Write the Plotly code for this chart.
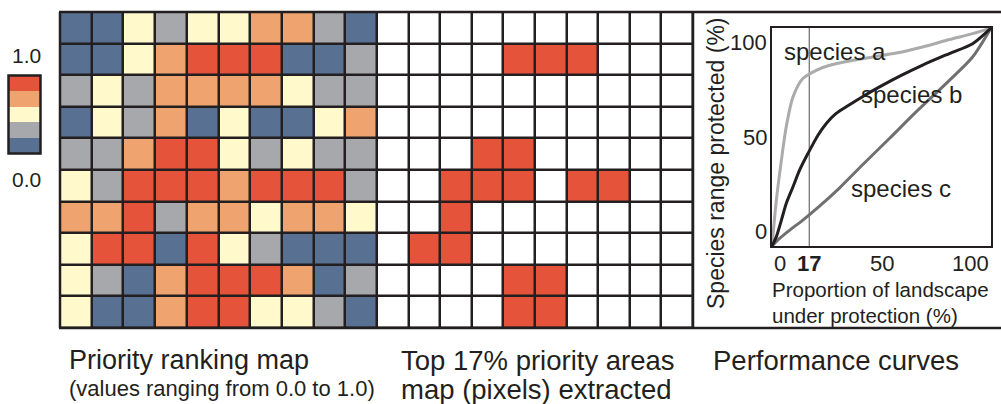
import plotly.graph_objects as go

# Priority rank classes per pixel (0 = lowest ... 4 = highest), rows top to bottom
rank_rows = [
    [0, 0, 2, 1, 2, 2, 3, 3, 1, 0],
    [0, 0, 2, 3, 4, 4, 4, 0, 0, 1],
    [1, 2, 1, 3, 3, 3, 3, 2, 1, 1],
    [0, 2, 1, 3, 0, 2, 0, 0, 2, 3],
    [1, 1, 3, 4, 4, 2, 1, 2, 1, 1],
    [2, 1, 4, 4, 4, 3, 4, 4, 4, 1],
    [3, 3, 4, 1, 3, 3, 2, 3, 3, 2],
    [2, 4, 4, 0, 4, 2, 1, 0, 0, 0],
    [2, 1, 0, 3, 4, 4, 4, 3, 0, 1],
    [2, 0, 0, 3, 4, 4, 2, 2, 1, 0],
]

# Pixels selected in the top 17% of the landscape (1 = selected)
top17_rows = [
    [0, 0, 0, 0, 0, 0, 0, 0, 0, 0],
    [0, 0, 0, 0, 1, 1, 1, 0, 0, 0],
    [0, 0, 0, 0, 0, 0, 0, 0, 0, 0],
    [0, 0, 0, 0, 0, 0, 0, 0, 0, 0],
    [0, 0, 0, 1, 1, 0, 0, 0, 0, 0],
    [0, 0, 1, 1, 1, 0, 1, 1, 0, 0],
    [0, 0, 1, 0, 0, 0, 0, 0, 0, 0],
    [0, 1, 1, 0, 0, 0, 0, 0, 0, 0],
    [0, 0, 0, 0, 1, 1, 0, 0, 0, 0],
    [0, 0, 0, 0, 1, 1, 0, 0, 0, 0],
]

# Legend classes, top (1.0) to bottom (0.0)
legend_classes = [4, 3, 2, 1, 0]

# Performance curves: % of landscape protected vs % of species range protected
species_a_x = [0, 2.0, 4.3, 6.5, 9.6, 14.1, 20.2, 26.3, 35.4, 46.0, 56.7, 68.8, 81.0, 91.6, 100]
species_a_y = [0, 21.1, 39.4, 54.7, 68.4, 76.8, 80.6, 82.9, 84.9, 86.7, 88.5, 91.3, 94.7, 97.4, 100]
species_b_x = [0, 2.0, 4.3, 6.5, 9.6, 12.6, 16.4, 21.0, 24.8, 29.3, 35.4, 41.5, 49.1, 59.7, 68.8, 81.0, 91.6, 100]
species_b_y = [0, 4.3, 11.9, 19.5, 27.2, 34.8, 42.4, 50.8, 56.2, 60.8, 64.8, 68.6, 73.0, 78.6, 83.0, 88.3, 92.8, 100]
species_c_x = [0, 3.5, 8.1, 14.1, 21.7, 30.9, 41.5, 53.6, 65.8, 81.0, 91.6, 100]
species_c_y = [0, 3.5, 7.3, 11.9, 18.3, 26.7, 37.4, 49.3, 61.5, 76.0, 86.7, 100]
target_share = 17

x_ticks = [0, 17, 50, 100]
y_ticks = [0, 50, 100]

INK = "#231F20"
FONT = "Liberation Sans, Arial, Helvetica, sans-serif"
BLUE, GRAY, YELLOW, ORANGE, RED = "#587091", "#A7A8AC", "#FFF9CC", "#EFA36E", "#E4533A"

class_scale = [
    [0.0, BLUE], [0.2, BLUE], [0.2, GRAY], [0.4, GRAY], [0.4, YELLOW],
    [0.6, YELLOW], [0.6, ORANGE], [0.8, ORANGE], [0.8, RED], [1.0, RED],
]

W, H = 1001, 404


def px_x(v):
    return v / W


def px_y(v):
    return 1 - v / H


fig = go.Figure()

# Priority ranking map
fig.add_trace(go.Heatmap(
    z=rank_rows, zmin=0, zmax=4, colorscale=class_scale, showscale=False,
    xgap=2.5, ygap=2.5, xaxis="x", yaxis="y", hoverinfo="skip",
))
# Top 17% extraction map
fig.add_trace(go.Heatmap(
    z=top17_rows, zmin=0, zmax=1, colorscale=[[0, "#FFFFFF"], [0.5, "#FFFFFF"], [0.5, RED], [1, RED]],
    showscale=False, xgap=2.5, ygap=2.5, xaxis="x2", yaxis="y2", hoverinfo="skip",
))
# Legend swatch
fig.add_trace(go.Heatmap(
    z=[[c] for c in legend_classes], zmin=0, zmax=4, colorscale=class_scale, showscale=False,
    xaxis="x4", yaxis="y4", hoverinfo="skip",
))

# Performance curves
fig.add_trace(go.Scatter(x=[target_share, target_share], y=[0, 100], mode="lines",
                         line=dict(color="#4D4D4D", width=1), xaxis="x3", yaxis="y3",
                         hoverinfo="skip"))
fig.add_trace(go.Scatter(x=species_c_x, y=species_c_y, mode="lines",
                         line=dict(color="#707070", width=3, shape="spline", smoothing=0.8),
                         xaxis="x3", yaxis="y3"))
fig.add_trace(go.Scatter(x=species_a_x, y=species_a_y, mode="lines",
                         line=dict(color="#ABABAB", width=3, shape="spline", smoothing=0.8),
                         xaxis="x3", yaxis="y3"))
fig.add_trace(go.Scatter(x=species_b_x, y=species_b_y, mode="lines",
                         line=dict(color=INK, width=3, shape="spline", smoothing=0.8),
                         xaxis="x3", yaxis="y3"))

grid_axis = dict(showgrid=False, zeroline=False, showticklabels=False, ticks="",
                 showline=False, fixedrange=True)

fig.update_layout(
    width=W, height=H, margin=dict(l=0, r=0, t=0, b=0),
    paper_bgcolor="white", plot_bgcolor=INK, showlegend=False,
    font=dict(family=FONT, color=INK),
    xaxis=dict(domain=[px_x(60), px_x(377)], range=[-0.5, 9.5], **grid_axis),
    yaxis=dict(domain=[px_y(328), px_y(12)], range=[9.5, -0.5], **grid_axis),
    xaxis2=dict(domain=[px_x(377), px_x(693)], range=[-0.5, 9.5], anchor="y2", **grid_axis),
    yaxis2=dict(domain=[px_y(328), px_y(12)], range=[9.5, -0.5], anchor="x2", **grid_axis),
    xaxis4=dict(domain=[px_x(9), px_x(40)], range=[-0.5, 0.5], anchor="y4", **grid_axis),
    yaxis4=dict(domain=[px_y(153), px_y(76)], range=[4.5, -0.5], anchor="x4", **grid_axis),
    xaxis3=dict(domain=[px_x(772), px_x(991)], range=[0, 100], anchor="y3",
                showgrid=False, zeroline=False, showticklabels=False, ticks="",
                showline=True, mirror=True, linecolor=INK, linewidth=2, fixedrange=True),
    yaxis3=dict(domain=[px_y(246), px_y(28)], range=[0, 100], anchor="x3",
                showgrid=False, zeroline=False, showticklabels=False, ticks="",
                showline=True, mirror=True, linecolor=INK, linewidth=2, fixedrange=True),
)

# White backgrounds for the curve panel and the legend area, under the traces
fig.add_shape(type="rect", xref="paper", yref="paper", layer="below",
              x0=px_x(693), x1=1, y0=px_y(328), y1=px_y(12),
              fillcolor="white", line=dict(width=0))
fig.add_shape(type="rect", xref="paper", yref="paper", layer="below",
              x0=px_x(0), x1=px_x(50), y0=0, y1=1,
              fillcolor="white", line=dict(width=0))

# Frame lines
frame = dict(color=INK, width=2.5)
fig.add_shape(type="line", xref="paper", yref="paper", x0=px_x(59), x1=1, y0=px_y(12), y1=px_y(12), line=frame)
fig.add_shape(type="line", xref="paper", yref="paper", x0=px_x(59), x1=1, y0=px_y(328), y1=px_y(328), line=frame)
fig.add_shape(type="line", xref="paper", yref="paper", x0=px_x(60), x1=px_x(60), y0=px_y(328), y1=px_y(12), line=frame)
fig.add_shape(type="line", xref="paper", yref="paper", x0=px_x(693), x1=px_x(693), y0=px_y(328), y1=px_y(12), line=frame)
fig.add_shape(type="rect", xref="paper", yref="paper", x0=px_x(8.5), x1=px_x(40.5),
              y0=px_y(153.5), y1=px_y(75.5), line=dict(color=INK, width=2.5))

ann = []


def text(x, y, s, size, xanchor="left", yanchor="middle", xref="paper", yref="paper", **kw):
    ann.append(dict(x=x, y=y, xref=xref, yref=yref, text=s, showarrow=False,
                    xanchor=xanchor, yanchor=yanchor, font=dict(size=size, family=FONT, color=INK),
                    **kw))


# Legend labels
text(px_x(26), px_y(55), "1.0", 21, xanchor="center")
text(px_x(26), px_y(180), "0.0", 21, xanchor="center")

# Tick labels of the performance panel
for v in x_ticks:
    anchor = "left" if v == 0 else ("right" if v == 100 else "center")
    label = "<b>%d</b>" % v if v == target_share else str(v)
    text(v, px_y(263), label, 22, xanchor=anchor, xref="x3")
for v in y_ticks:
    ya = "bottom" if v == 0 else ("top" if v == 100 else "middle")
    text(px_x(769), v, str(v), 22, xanchor="right", yanchor=ya, yref="y3")

# Axis titles
text(px_x(716), px_y(163), "Species range protected (%)", 23, xanchor="center", textangle=-90)
text(px_x(770), px_y(289), "Proportion of landscape", 20.5)
text(px_x(770), px_y(315), "under protection (%)", 20.5)

# Curve labels
text(28.7, 89.4, "species a", 24, xanchor="center", xref="x3", yref="y3")
text(63.9, 69.3, "species b", 24, xanchor="center", xref="x3", yref="y3")
text(58.7, 26.6, "species c", 24, xanchor="center", xref="x3", yref="y3")

# Panel captions
text(px_x(67), px_y(360), "Priority ranking map", 27)
text(px_x(67), px_y(388), "(values ranging from 0.0 to 1.0)", 22)
text(px_x(399), px_y(360), "Top 17% priority areas", 27.5)
text(px_x(399), px_y(389), "map (pixels) extracted", 27.5)
text(px_x(711), px_y(360), "Performance curves", 27.5)

fig.update_layout(annotations=ann)

fig.write_html("out.html", config=dict(displayModeBar=False))
